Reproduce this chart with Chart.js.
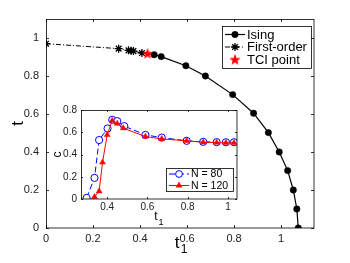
<!DOCTYPE html>
<html>
<head>
<meta charset="utf-8">
<script src="https://cdn.jsdelivr.net/npm/chart.js@4/dist/chart.umd.min.js"></script>
<style>
  body { margin: 0; background: #fff; }
  #wrap { position: relative; width: 350px; height: 263px; }
  #mainChart { position: absolute; left: 0; top: 0; }
  #insetChart { position: absolute; left: 50px; top: 100px; }
</style>
</head>
<body>
<div id="wrap">
  <canvas id="mainChart" width="350" height="263"></canvas>
  <canvas id="insetChart" width="195" height="135"></canvas>
</div>
<script>
// main phase diagram
const firstOrderT1 = [0, 0.309, 0.351, 0.362, 0.372, 0.408];
const firstOrderT = [0.970, 0.944, 0.935, 0.933, 0.931, 0.921];
const tciT1 = [0.432];
const tciT = [0.919];
const isingT1 = [0.46, 0.49, 0.595, 0.678, 0.794, 0.883, 0.946, 0.992, 1.028, 1.052, 1.067, 1.073];
const isingT = [0.912, 0.902, 0.854, 0.80, 0.702, 0.604, 0.502, 0.40, 0.302, 0.20, 0.10, 0.0];
const mainXTicks = [0, 0.2, 0.4, 0.6, 0.8, 1];
const mainYTicks = [0, 0.2, 0.4, 0.6, 0.8, 1];

// inset: central charge
const n80T1 = [0.298, 0.337, 0.36, 0.402, 0.425, 0.45, 0.485, 0.59, 0.671, 0.795, 0.877, 0.944, 0.99, 1.03];
const n80C = [0.01, 0.19, 0.53, 0.634, 0.712, 0.70, 0.655, 0.576, 0.552, 0.523, 0.514, 0.511, 0.51, 0.51];
const n120T1 = [0.337, 0.36, 0.377, 0.40, 0.425, 0.45, 0.48, 0.59, 0.671, 0.795, 0.877, 0.944, 0.99, 1.03];
const n120C = [0.02, 0.07, 0.33, 0.576, 0.705, 0.678, 0.637, 0.561, 0.54, 0.523, 0.51, 0.507, 0.505, 0.505];
const insetXTicks = [0.4, 0.6, 0.8, 1];
const insetYTicks = [0, 0.2, 0.4, 0.6, 0.8];

const FONT = "'Liberation Sans', Arial, sans-serif";
const pts = (xs, ys) => xs.map((x, i) => ({ x: x, y: ys[i] }));

// filled red pentagram for the TCI marker
function starImage(size, color) {
  const c = document.createElement('canvas');
  c.width = size; c.height = size;
  const g = c.getContext('2d');
  const r = size / 2, ri = r * 0.42;
  g.beginPath();
  for (let i = 0; i < 10; i++) {
    const rad = i % 2 ? ri : r;
    const a = -Math.PI / 2 + i * Math.PI / 5;
    g.lineTo(r + rad * Math.cos(a), r + 0.5 + rad * Math.sin(a));
  }
  g.closePath();
  g.fillStyle = color;
  g.fill();
  return c;
}
const tciStar = starImage(12, '#ff0000');

// box, inward ticks, axis titles, in-axes legend
const framePlugin = {
  id: 'frame',
  afterDatasetsDraw(chart, args, opts) {
    const ctx = chart.ctx, ca = chart.chartArea;
    const xs = chart.scales.x, ys = chart.scales.y;
    ctx.save();
    ctx.strokeStyle = '#000';
    ctx.lineWidth = 0.8;
    ctx.strokeRect(ca.left + 0.5, ca.top + 0.5, ca.right - ca.left - 0.5, ca.bottom - ca.top - 0.5);
    ctx.beginPath();
    opts.xTicks.forEach(v => {
      const px = Math.round(xs.getPixelForValue(v)) + 0.5;
      ctx.moveTo(px, ca.bottom); ctx.lineTo(px, ca.bottom - opts.tickLen);
      ctx.moveTo(px, ca.top); ctx.lineTo(px, ca.top + opts.tickLen);
    });
    opts.yTicks.forEach(v => {
      const py = Math.round(ys.getPixelForValue(v)) + 0.5;
      ctx.moveTo(ca.left, py); ctx.lineTo(ca.left + opts.tickLen, py);
      ctx.moveTo(ca.right, py); ctx.lineTo(ca.right - opts.tickLen, py);
    });
    ctx.stroke();

    // axis titles
    const xt = opts.xTitle, yt = opts.yTitle;
    ctx.fillStyle = '#000';
    ctx.textAlign = 'center';
    ctx.textBaseline = 'middle';
    const cx = (ca.left + ca.right) / 2 + xt.dx;
    ctx.font = xt.size + 'px ' + FONT;
    ctx.fillText(xt.text, cx, ca.bottom + xt.dy);
    ctx.font = xt.subSize + 'px ' + FONT;
    ctx.fillText(xt.sub, cx + xt.size * 0.42, ca.bottom + xt.dy + xt.size * 0.42);
    ctx.save();
    ctx.translate(ca.left - yt.dx, (ca.top + ca.bottom) / 2 + yt.dy);
    ctx.rotate(-Math.PI / 2);
    ctx.font = yt.size + 'px ' + FONT;
    ctx.fillText(yt.text, 0, 0);
    ctx.restore();

    // legend
    const lg = opts.legend;
    const bx = ca.right - lg.right - lg.width;
    const by = lg.top != null ? ca.top + lg.top : ca.bottom - lg.bottom - lg.height;
    ctx.fillStyle = '#fff';
    ctx.fillRect(bx, by, lg.width, lg.height);
    ctx.lineWidth = 0.8;
    ctx.strokeStyle = '#000';
    ctx.strokeRect(bx + 0.5, by + 0.5, lg.width, lg.height);
    ctx.font = lg.size + 'px ' + FONT;
    ctx.textAlign = 'left';
    lg.items.forEach((it, i) => {
      const ds = chart.data.datasets[it.ds];
      const y = by + lg.firstY + i * lg.step;
      if (it.line) {
        ctx.save();
        ctx.strokeStyle = ds.borderColor;
        ctx.lineWidth = ds.borderWidth;
        ctx.setLineDash(ds.borderDash || []);
        ctx.beginPath();
        ctx.moveTo(bx + lg.lineX0, y); ctx.lineTo(bx + lg.lineX1, y);
        ctx.stroke();
        ctx.restore();
      }
      ctx.save();
      ctx.fillStyle = ds.pointBackgroundColor;
      ctx.strokeStyle = ds.pointBorderColor;
      ctx.lineWidth = ds.pointBorderWidth;
      Chart.helpers.drawPoint(ctx, {
        pointStyle: ds.pointStyle, radius: it.radius,
        borderWidth: ds.pointBorderWidth, rotation: 0
      }, bx + (lg.lineX0 + lg.lineX1) / 2, y);
      ctx.restore();
      ctx.fillStyle = '#000';
      ctx.fillText(it.label, bx + lg.textX, y + 0.5);
    });
    ctx.restore();
  }
};

function fixedScale(size, key) {
  return s => { s[key] = size; };
}

function tickList(list) {
  return s => { s.ticks = list.map(v => ({ value: v })); };
}

const foData = pts(firstOrderT1.concat(tciT1), firstOrderT.concat(tciT));
const isData = pts(tciT1.concat(isingT1), tciT.concat(isingT));

new Chart(document.getElementById('mainChart'), {
  type: 'line',
  data: {
    datasets: [
      {
        label: 'TCI point',
        data: pts(tciT1, tciT),
        showLine: false,
        pointStyle: tciStar,
        pointBackgroundColor: '#ff0000',
        pointBorderColor: '#ff0000',
        pointBorderWidth: 0,
        borderColor: '#ff0000',
        borderWidth: 0
      },
      {
        label: 'Ising',
        data: isData,
        borderColor: '#000',
        borderWidth: 1.2,
        pointStyle: 'circle',
        pointRadius: isData.map((_, i) => i === 0 ? 0 : 3.2),
        pointBackgroundColor: '#000',
        pointBorderColor: '#000',
        pointBorderWidth: 0.5
      },
      {
        label: 'First-order',
        data: foData,
        borderColor: '#000',
        borderWidth: 1,
        borderDash: [5, 2, 1, 2],
        pointStyle: 'star',
        pointRadius: foData.map((_, i) => i < firstOrderT1.length ? 4 : 0),
        pointBackgroundColor: '#000',
        pointBorderColor: '#000',
        pointBorderWidth: 1.3
      }
    ]
  },
  options: {
    responsive: false,
    animation: false,
    devicePixelRatio: 1,
    layout: { padding: { left: 0, top: 19, right: 36, bottom: 0 } },
    scales: {
      x: {
        type: 'linear', min: 0, max: 1.14,
        afterBuildTicks: tickList(mainXTicks),
        afterFit: fixedScale(35, 'height'),
        grid: { display: false, drawTicks: false },
        border: { display: false },
        ticks: { padding: 4, color: '#222', font: { family: FONT, size: 11 }, maxRotation: 0,
                 callback: v => String(v) }
      },
      y: {
        type: 'linear', min: 0, max: 1.1,
        afterBuildTicks: tickList(mainYTicks),
        afterFit: fixedScale(46, 'width'),
        grid: { display: false, drawTicks: false },
        border: { display: false },
        ticks: { padding: 7, color: '#222', font: { family: FONT, size: 11 },
                 callback: v => String(v) }
      }
    },
    plugins: {
      legend: { display: false },
      tooltip: { enabled: false },
      frame: {
        xTicks: mainXTicks, yTicks: mainYTicks, tickLen: 3,
        xTitle: { text: 't', sub: '1', size: 17, subSize: 12, dx: -3, dy: 15 },
        yTitle: { text: 't', size: 17, dx: 28, dy: 0 },
        legend: {
          right: 3, top: 7, width: 89, height: 42, size: 13,
          firstY: 8.5, step: 12.5, lineX0: 3, lineX1: 23, textX: 25,
          items: [
            { ds: 1, label: 'Ising', line: true, radius: 3.2 },
            { ds: 2, label: 'First-order', line: true, radius: 4 },
            { ds: 0, label: 'TCI point', line: false, radius: 5 }
          ]
        }
      }
    }
  },
  plugins: [framePlugin]
});

// inset chart area gets a white background
const whiteArea = {
  id: 'whiteArea',
  beforeDraw(chart) {
    const ca = chart.chartArea, ctx = chart.ctx;
    ctx.save();
    ctx.fillStyle = '#fff';
    ctx.fillRect(ca.left, ca.top, ca.right - ca.left, ca.bottom - ca.top);
    ctx.restore();
  }
};

new Chart(document.getElementById('insetChart'), {
  type: 'line',
  data: {
    datasets: [
      {
        label: 'N = 80',
        data: pts(n80T1, n80C),
        order: 1,
        borderColor: '#0000ff',
        borderWidth: 1,
        borderDash: [6, 3],
        pointStyle: 'circle',
        pointRadius: 3.6,
        pointBackgroundColor: '#fff',
        pointBorderColor: '#0000ff',
        pointBorderWidth: 1
      },
      {
        label: 'N = 120',
        data: pts(n120T1, n120C),
        order: 0,
        borderColor: '#ff0000',
        borderWidth: 1,
        pointStyle: 'triangle',
        pointRadius: 3.4,
        pointBackgroundColor: '#ff0000',
        pointBorderColor: '#ff0000',
        pointBorderWidth: 0.5
      }
    ]
  },
  options: {
    responsive: false,
    animation: false,
    devicePixelRatio: 1,
    layout: { padding: { left: 0, top: 7, right: 8, bottom: 0 } },
    scales: {
      x: {
        type: 'linear', min: 0.27, max: 1.045,
        afterBuildTicks: tickList(insetXTicks),
        afterFit: fixedScale(36, 'height'),
        grid: { display: false, drawTicks: false },
        border: { display: false },
        ticks: { padding: 2, color: '#222', font: { family: FONT, size: 10 }, maxRotation: 0,
                 callback: v => String(v) }
      },
      y: {
        type: 'linear', min: 0, max: 0.8,
        afterBuildTicks: tickList(insetYTicks),
        afterFit: fixedScale(31, 'width'),
        grid: { display: false, drawTicks: false },
        border: { display: false },
        ticks: { padding: 4, color: '#222', font: { family: FONT, size: 10 },
                 callback: v => String(v) }
      }
    },
    plugins: {
      legend: { display: false },
      tooltip: { enabled: false },
      frame: {
        xTicks: insetXTicks, yTicks: insetYTicks, tickLen: 2,
        xTitle: { text: 't', sub: '1', size: 12, subSize: 9, dx: -3, dy: 18 },
        yTitle: { text: 'c', size: 12, dx: 23, dy: 0 },
        legend: {
          right: 4, bottom: 8, width: 67, height: 23, size: 10.5,
          firstY: 6, step: 11.5, lineX0: 3, lineX1: 23, textX: 25,
          items: [
            { ds: 0, label: 'N = 80', line: true, radius: 3.4 },
            { ds: 1, label: 'N = 120', line: true, radius: 3.4 }
          ]
        }
      }
    }
  },
  plugins: [whiteArea, framePlugin]
});
</script>
</body>
</html>
